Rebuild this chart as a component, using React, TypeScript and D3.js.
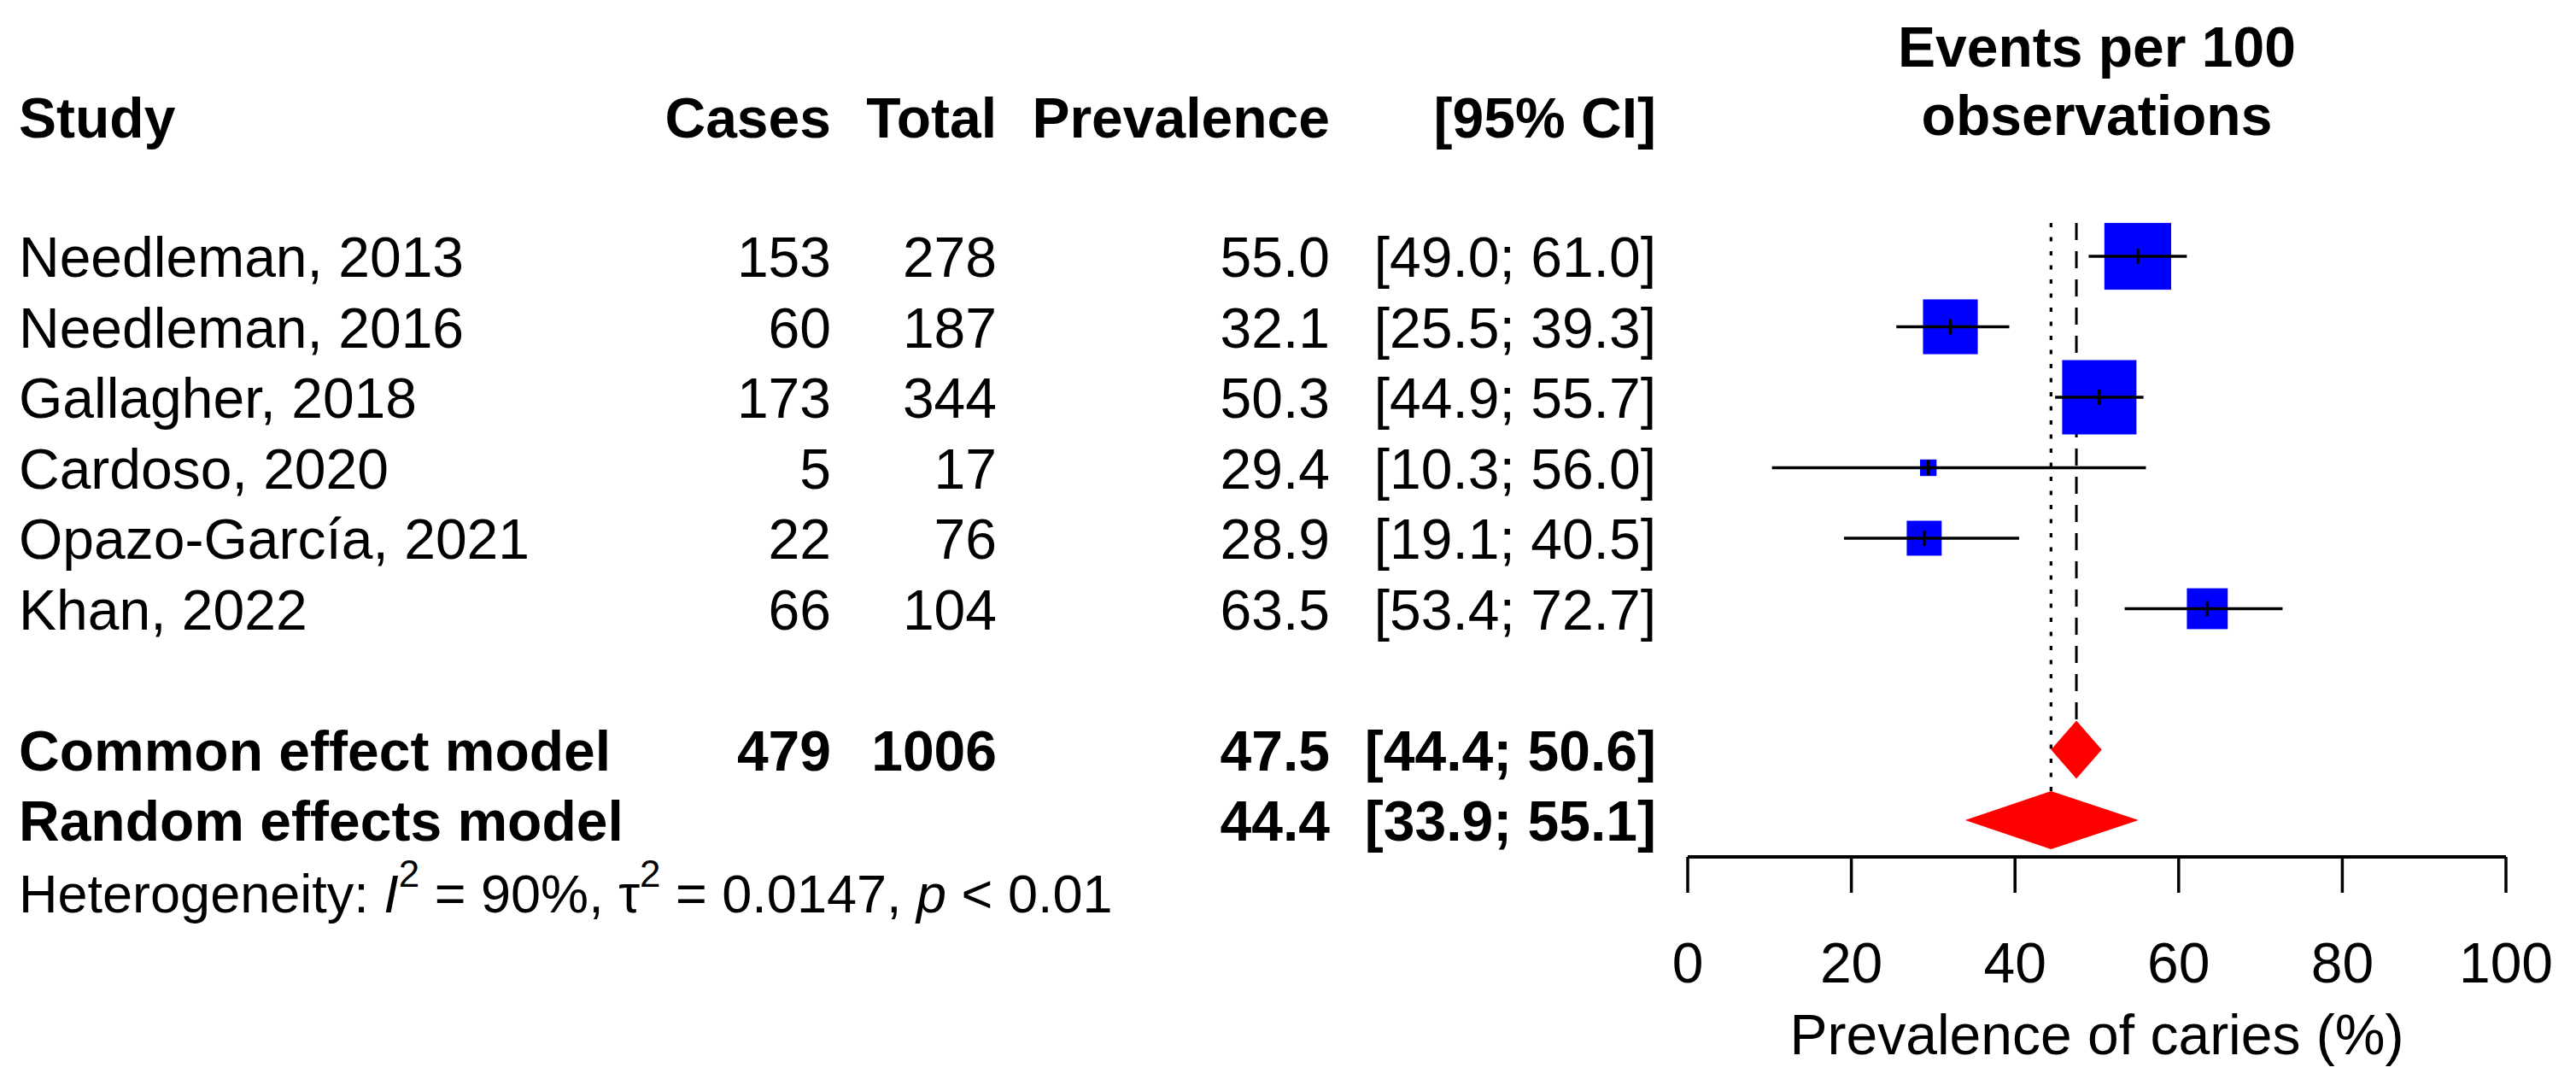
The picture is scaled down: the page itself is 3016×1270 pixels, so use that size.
import React from "react";
import * as d3 from "d3";

const studies = ["Needleman, 2013", "Needleman, 2016", "Gallagher, 2018", "Cardoso, 2020", "Opazo-García, 2021", "Khan, 2022"];
const cases = [153, 60, 173, 5, 22, 66];
const totals = [278, 187, 344, 17, 76, 104];
const prevalence = [55.0, 32.1, 50.3, 29.4, 28.9, 63.5];
const lower = [49.0, 25.5, 44.9, 10.3, 19.1, 53.4];
const upper = [61.0, 39.3, 55.7, 56.0, 40.5, 72.7];

const pooledLabels = ["Common effect model", "Random effects model"];
const pooledCases = ["479", ""];
const pooledTotals = ["1006", ""];
const pooledEst = [47.5, 44.4];
const pooledLower = [44.4, 33.9];
const pooledUpper = [50.6, 55.1];

const ticks = [0, 20, 40, 60, 80, 100];

const W = 3016;
const H = 1270;
const FONT = "'Liberation Sans', Arial, Helvetica, sans-serif";
const FS = 66;

const x = d3.scaleLinear().domain([0, 100]).range([1976, 2934]);
const rowY = d3.scaleLinear().domain([0, 1]).range([300, 382.5]);
const boxSize = d3.scaleSqrt().domain([0, 344]).range([0, 87]);

const colStudy = 22;
const colCases = 973;
const colTotal = 1167;
const colPrev = 1557;
const colCI = 1939;
const BASE = 24;

const fmt = d3.format(".1f");
const ciText = (l: number, u: number) => `[${fmt(l)}; ${fmt(u)}]`;

export default function App() {
  const commonY = rowY(7);
  const randomY = rowY(8);
  const halfH = 34;
  const lineTop = rowY(0) - 39;
  const axisY = 1003;
  const tickLen = 42;

  const diamond = (est: number, lo: number, hi: number, cy: number) =>
    d3.line()([
      [x(lo), cy],
      [x(est), cy - halfH],
      [x(hi), cy],
      [x(est), cy + halfH],
    ]) + "Z";

  return (
    <svg
      width={W}
      height={H}
      viewBox={`0 0 ${W} ${H}`}
      style={{ position: "absolute", left: 0, top: 0, background: "#fff" }}
      fontFamily={FONT}
      fontSize={FS}
    >
      <rect x={0} y={0} width={W} height={H} fill="#fff" />
      {/* Right column title */}
      <g fontWeight="bold" textAnchor="middle">
        <text x={(x(0) + x(100)) / 2} y={78}>Events per 100</text>
        <text x={(x(0) + x(100)) / 2} y={158}>observations</text>
      </g>
      {/* Header */}
      <g fontWeight="bold">
        <text x={colStudy} y={161}>Study</text>
        <text x={colCases} y={161} textAnchor="end">Cases</text>
        <text x={colTotal} y={161} textAnchor="end">Total</text>
        <text x={colPrev} y={161} textAnchor="end">Prevalence</text>
        <text x={colCI} y={161} textAnchor="end">[95% CI]</text>
      </g>
      {/* Study rows */}
      {studies.map((s, i) => {
        const cy = rowY(i);
        return (
          <g key={s}>
            <text x={colStudy} y={cy + BASE}>{s}</text>
            <text x={colCases} y={cy + BASE} textAnchor="end">{cases[i]}</text>
            <text x={colTotal} y={cy + BASE} textAnchor="end">{totals[i]}</text>
            <text x={colPrev} y={cy + BASE} textAnchor="end">{fmt(prevalence[i])}</text>
            <text x={colCI} y={cy + BASE} textAnchor="end">{ciText(lower[i], upper[i])}</text>
          </g>
        );
      })}
      {/* Pooled rows text */}
      <g fontWeight="bold">
        {pooledLabels.map((p, j) => {
          const cy = rowY(7 + j);
          return (
            <g key={p}>
              <text x={colStudy} y={cy + BASE}>{p}</text>
              <text x={colCases} y={cy + BASE} textAnchor="end">{pooledCases[j]}</text>
              <text x={colTotal} y={cy + BASE} textAnchor="end">{pooledTotals[j]}</text>
              <text x={colPrev} y={cy + BASE} textAnchor="end">{fmt(pooledEst[j])}</text>
              <text x={colCI} y={cy + BASE} textAnchor="end">{ciText(pooledLower[j], pooledUpper[j])}</text>
            </g>
          );
        })}
      </g>
      {/* Heterogeneity */}
      <text x={colStudy} y={rowY(9) + 25} fontSize={63}>
        <tspan>Heterogeneity: </tspan>
        <tspan fontStyle="italic">I</tspan>
        <tspan fontSize={44} dy={-30}>2</tspan>
        <tspan dy={30}> = 90%, τ</tspan>
        <tspan fontSize={44} dy={-30}>2</tspan>
        <tspan dy={30}> = 0.0147, </tspan>
        <tspan fontStyle="italic">p</tspan>
        <tspan> &lt; 0.01</tspan>
      </text>

      {/* Reference lines */}
      <line
        x1={x(pooledEst[1])}
        x2={x(pooledEst[1])}
        y1={lineTop}
        y2={randomY - halfH}
        stroke="#000"
        strokeWidth={3.3}
        strokeDasharray="5 11.5"
      />
      <line
        x1={x(pooledEst[0])}
        x2={x(pooledEst[0])}
        y1={lineTop}
        y2={commonY - halfH}
        stroke="#000"
        strokeWidth={3}
        strokeDasharray="20 13"
      />

      {/* Squares and CIs */}
      {studies.map((s, i) => {
        const cy = rowY(i);
        const sz = boxSize(totals[i]);
        return (
          <g key={"m" + s}>
            <rect x={x(prevalence[i]) - sz / 2} y={cy - sz / 2} width={sz} height={sz} fill="#0000FF" />
            <line x1={x(lower[i])} x2={x(upper[i])} y1={cy} y2={cy} stroke="#000" strokeWidth={3.5} />
            <line x1={x(prevalence[i])} x2={x(prevalence[i])} y1={cy - 9} y2={cy + 9} stroke="#000" strokeWidth={3.5} />
          </g>
        );
      })}

      {/* Diamonds */}
      {pooledEst.map((e, j) => (
        <path key={"d" + j} d={diamond(e, pooledLower[j], pooledUpper[j], rowY(7 + j))} fill="#FF0000" />
      ))}

      {/* Axis */}
      <line x1={x(0)} x2={x(100)} y1={axisY} y2={axisY} stroke="#000" strokeWidth={4} />
      {ticks.map((t) => (
        <g key={"t" + t}>
          <line x1={x(t)} x2={x(t)} y1={axisY} y2={axisY + tickLen} stroke="#000" strokeWidth={3.5} />
          <text x={x(t)} y={1150} textAnchor="middle">{t}</text>
        </g>
      ))}
      <text x={(x(0) + x(100)) / 2} y={1234} textAnchor="middle">Prevalence of caries (%)</text>
    </svg>
  );
}
